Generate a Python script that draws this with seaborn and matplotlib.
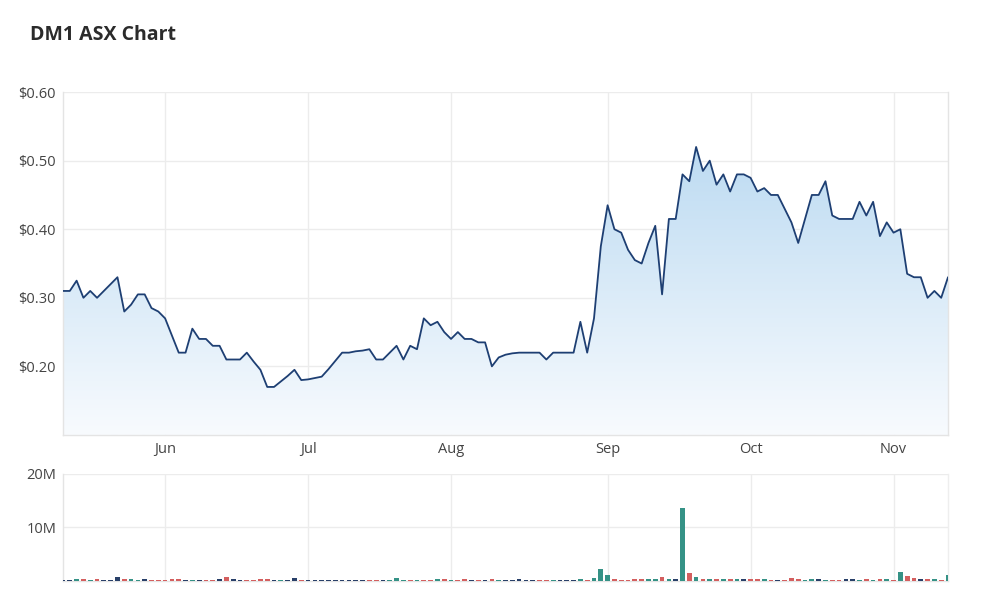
import numpy as np
import seaborn as sns
import matplotlib.pyplot as plt
from matplotlib.colors import LinearSegmentedColormap
from matplotlib.ticker import FuncFormatter

# daily closes, one per trading day (mid May -> mid Nov)
prices = [
    0.31, 0.31, 0.325, 0.30, 0.31, 0.30, 0.31, 0.32, 0.33, 0.28,
    0.29, 0.305, 0.305, 0.285, 0.28, 0.27, 0.245, 0.22, 0.22, 0.255,
    0.24, 0.24, 0.23, 0.23, 0.21, 0.21, 0.21, 0.22, 0.207, 0.195,
    0.17, 0.17, 0.178, 0.186, 0.195, 0.18, 0.181, 0.183, 0.185, 0.196,
    0.208, 0.22, 0.22, 0.222, 0.223, 0.225, 0.21, 0.21, 0.22, 0.23,
    0.21, 0.23, 0.225, 0.27, 0.26, 0.265, 0.25, 0.24, 0.25, 0.24,
    0.24, 0.235, 0.235, 0.20, 0.213, 0.217, 0.219, 0.22, 0.22, 0.22,
    0.22, 0.21, 0.22, 0.22, 0.22, 0.22, 0.265, 0.22, 0.27, 0.375,
    0.435, 0.40, 0.395, 0.37, 0.355, 0.35, 0.38, 0.405, 0.305, 0.415,
    0.415, 0.48, 0.47, 0.52, 0.485, 0.50, 0.465, 0.48, 0.455, 0.48,
    0.48, 0.475, 0.455, 0.46, 0.45, 0.45, 0.43, 0.41, 0.38, 0.415,
    0.45, 0.45, 0.47, 0.42, 0.415, 0.415, 0.415, 0.44, 0.42, 0.44,
    0.39, 0.41, 0.395, 0.40, 0.335, 0.33, 0.33, 0.30, 0.31, 0.30,
    0.33,
]

# volume in millions
T, S = 0.12, 0.3
volume = [
    T, T, S, S, T, S, T, T, 0.75, S,
    S, T, S, T, T, T, S, S, T, T,
    T, T, T, S, 0.8, S, T, T, T, S,
    S, T, T, T, 0.5, T, T, T, T, T,
    T, T, T, T, T, T, T, T, T, 0.6,
    T, T, T, T, T, S, S, T, T, S,
    T, T, T, S, T, T, T, S, T, T,
    T, T, T, T, T, T, S, T, 0.63, 2.3,
    1.06, S, T, T, S, S, S, S, 0.69, S,
    S, 13.7, 1.5, 0.69, 0.45, 0.45, S, 0.45, S, 0.45,
    S, S, S, S, T, T, T, 0.5, S, T,
    S, S, T, T, T, S, S, T, S, T,
    S, S, T, 1.6, 0.87, 0.5, S, S, S, T,
    1.06,
]

# bar colour: u = up day, d = down day, n = unchanged
direction = [
    'n', 'n', 'u', 'd', 'u', 'd', 'n', 'n', 'n', 'd',
    'u', 'u', 'n', 'd', 'd', 'd', 'd', 'd', 'n', 'u',
    'n', 'd', 'd', 'n', 'd', 'n', 'n', 'd', 'd', 'd',
    'd', 'n', 'u', 'n', 'n', 'd', 'n', 'n', 'n', 'n',
    'n', 'n', 'n', 'n', 'n', 'd', 'd', 'n', 'u', 'u',
    'u', 'd', 'u', 'd', 'd', 'u', 'd', 'u', 'd', 'd',
    'n', 'd', 'n', 'd', 'u', 'n', 'n', 'n', 'n', 'n',
    'd', 'd', 'u', 'n', 'n', 'n', 'u', 'd', 'u', 'u',
    'u', 'd', 'd', 'd', 'd', 'd', 'u', 'u', 'd', 'u',
    'n', 'u', 'd', 'u', 'd', 'u', 'd', 'u', 'd', 'u',
    'n', 'd', 'd', 'u', 'd', 'n', 'd', 'd', 'd', 'u',
    'u', 'n', 'u', 'd', 'd', 'n', 'n', 'u', 'd', 'u',
    'd', 'u', 'd', 'u', 'd', 'd', 'n', 'd', 'u', 'd',
    'u',
]

# first trading day of each month (index into the series)
month_pos = [15, 36, 57, 80, 101, 122]
month_labels = ['Jun', 'Jul', 'Aug', 'Sep', 'Oct', 'Nov']

price_ticks = [0.20, 0.30, 0.40, 0.50, 0.60]
vol_ticks = [10e6, 20e6]

sns.set_theme(style='white')
plt.rcParams['font.family'] = ['Open Sans', 'DejaVu Sans']

line_col = '#1e3f73'
grid_col = '#ececec'
palette = {'u': '#26a191', 'd': '#e84b4b', 'n': '#1f3d73'}

idx = np.arange(len(prices))
vol = np.array(volume) * 1e6

fig = plt.figure(figsize=(10, 6.1), dpi=100)
ax = fig.add_axes([0.063, 0.287, 0.885, 0.562])
axv = fig.add_axes([0.063, 0.0475, 0.885, 0.1755])

# price area with vertical gradient
poly = ax.fill_between(idx, prices, 0.10, color='none', lw=0)
grad = np.linspace(0, 1, 256).reshape(-1, 1)
cmap = LinearSegmentedColormap.from_list('g', ['#f8fbfe', '#bddbf2'])
im = ax.imshow(grad, extent=[0, len(prices) - 1, 0.10, 0.52], origin='lower',
               aspect='auto', cmap=cmap, zorder=1)
im.set_clip_path(poly.get_paths()[0], ax.transData)
sns.lineplot(x=idx, y=prices, ax=ax, color=line_col, linewidth=1.3, zorder=3)

ax.set_xlim(0, len(prices) - 1)
ax.set_ylim(0.10, 0.60)
ax.set_yticks(price_ticks)
ax.yaxis.set_major_formatter(FuncFormatter(lambda v, p: f'${v:.2f}'))
ax.set_xticks(month_pos)
ax.set_xticklabels(month_labels)

# volume bars
sns.barplot(x=idx, y=vol, hue=direction, palette=palette, native_scale=True,
            dodge=False, legend=False, errorbar=None, width=0.7, linewidth=0,
            ax=axv, zorder=3)
axv.set_xlim(0, len(prices) - 1)
axv.set_ylim(0, 20e6)
axv.set_yticks(vol_ticks)
axv.yaxis.set_major_formatter(FuncFormatter(lambda v, p: f'{v / 1e6:.0f}M'))
axv.set_xticks(month_pos)
axv.set_xticklabels([])

for a in (ax, axv):
    a.set_xlabel('')
    a.set_ylabel('')
    a.grid(True, color=grid_col, linewidth=1, zorder=0)
    a.set_axisbelow(True)
    for s in a.spines.values():
        s.set_color('#e4e4e4')
        s.set_linewidth(1)
    a.spines['top'].set_visible(False)
    a.tick_params(length=0, labelsize=10.5, labelcolor='#444444', pad=5)
axv.spines['right'].set_color('#eeeeee')

fig.text(0.03, 1 - 35 / 610, 'DM1 ASX Chart', fontsize=14, fontweight='bold',
         color='#2b2b2b', va='center', ha='left')

fig.savefig('out.png', dpi=100, facecolor='white')
